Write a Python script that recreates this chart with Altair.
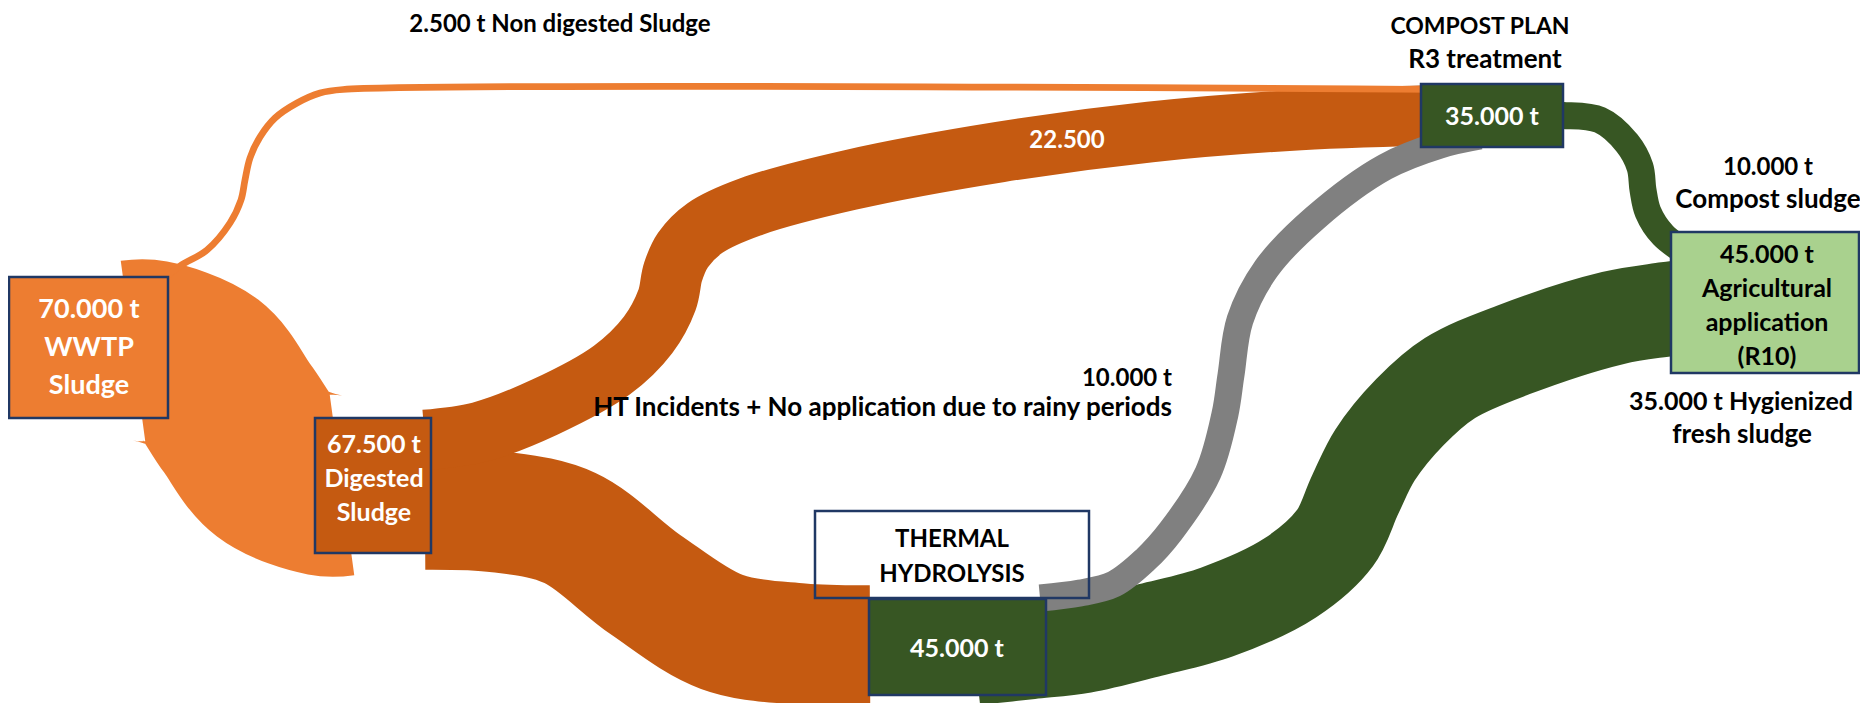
import altair as alt
import pandas as pd

# ----------------------------------------------------------------- data
NODE_ID = ["wwtp", "digested", "compost", "thermal", "agri"]
NODE_TONNES = [70000, 67500, 35000, 45000, 45000]
NODE_TEXT = [
    ["70.000 t", "WWTP", "Sludge"],
    ["67.500 t", "Digested", "Sludge"],
    ["35.000 t"],
    ["45.000 t"],
    ["45.000 t", "Agricultural", "application", "(R10)"],
]

LINK_ID = ["A", "B", "C", "D", "E", "F", "G"]
LINK_SOURCE = ["wwtp", "wwtp", "digested", "digested", "thermal", "thermal", "compost"]
LINK_TARGET = ["digested", "compost", "compost", "thermal", "compost", "agri", "agri"]
LINK_TONNES = [67500, 2500, 22500, 45000, 10000, 35000, 10000]

ANNOT_TEXT = [
    "2.500 t Non digested Sludge",
    "COMPOST PLAN",
    "R3 treatment",
    "22.500",
    "10.000 t",
    "HT Incidents + No application due to rainy periods",
    "10.000 t",
    "Compost sludge",
    "35.000 t Hygienized",
    "fresh sludge",
    "THERMAL",
    "HYDROLYSIS",
]

# ----------------------------------------------------------------- layout / style
W, H = 1852, 695
XS = alt.Scale(domain=[8, 8 + W], nice=False, zero=False)
YS = alt.Scale(domain=[8, 8 + H], nice=False, zero=False, reverse=True)

NAVY = "#203864"
NODE_FILL = {"wwtp": "#ED7D31", "digested": "#C55A11", "compost": "#375623",
             "thermal": "#375623", "agri": "#A9D18E"}
NODE_TEXT_COLOR = {"wwtp": "white", "digested": "white", "compost": "white",
                   "thermal": "white", "agri": "black"}
NODE_BOX = {"wwtp": (9, 168, 277, 418), "digested": (315, 431, 418, 553),
            "compost": (1421, 1563, 84, 147), "thermal": (869, 1046, 599, 695),
            "agri": (1671, 1859, 232, 373)}
# (center x, first baseline, line spacing, font size)
NODE_TEXT_POS = {"wwtp": (89, 318, 38, 27), "digested": (374, 453, 34, 25),
                 "compost": (1492, 125, 34, 25), "thermal": (957, 657, 34, 25),
                 "agri": (1767, 263, 34, 25)}
THERMAL_LABEL_BOX = (815, 1089, 511, 598)

LINK_COLOR = {"A": "#ED7D31", "B": "#ED7D31", "C": "#C55A11", "D": "#C55A11",
              "E": "#808080", "F": "#375623", "G": "#375623"}
LINK_PATH = {
    "A": [(133, 351), (150, 351), (203, 372), (237, 418), (272, 464), (325, 485), (342, 485)],
    "B": [(160, 282), (180, 266), (207, 250), (230, 223), (241, 200), (245, 180), (250, 158),
          (260, 137), (275, 118), (297, 103), (320, 93), (343, 89.5), (1440, 89.5)],
    "C": [(425, 440), (480, 432), (545, 407), (612, 370), (648, 335), (667, 300), (673, 272),
          (683, 250), (705, 228), (750, 207), (850, 180), (1000, 152), (1150, 132),
          (1300, 120), (1450, 115)],
    "D": [(425, 509), (500, 512), (570, 528), (646, 585), (722, 632), (800, 644), (870, 646)],
    "E": [(1040, 598), (1080, 593), (1114, 584), (1145, 560), (1171, 531), (1208, 473),
          (1225, 414), (1231, 375), (1240, 320), (1266, 269), (1315, 218), (1385, 167),
          (1440, 145), (1480, 136)],
    "F": [(975, 658), (1030, 652), (1083, 646), (1150, 630), (1217, 612), (1290, 578),
          (1335, 538), (1355, 495), (1375, 455), (1410, 412), (1450, 378), (1513, 350),
          (1613, 318), (1668, 309), (1720, 302)],
    "G": [(1540, 115.5), (1563, 115.5), (1600, 120), (1627, 143), (1640, 167), (1643, 190),
          (1648, 212), (1663, 235), (1695, 258)],
}
DRAW_ORDER = ["A", "D", "C", "B", "F", "E", "G"]

# (x, baseline, align, color, fontSize)
ANNOT_POS = [
    (560, 32, "center", "black", 24),
    (1480, 34, "center", "black", 23),
    (1485, 68, "center", "black", 26),
    (1067, 148, "center", "white", 24),
    (1172, 386, "right", "black", 24),
    (1172, 416, "right", "black", 26),
    (1768, 175, "center", "black", 24),
    (1768, 208, "center", "black", 26),
    (1741, 410, "center", "black", 25),
    (1742, 443, "center", "black", 26),
    (952, 547, "center", "black", 24),
    (952, 582, "center", "black", 24),
]
FONT = "Lato"

# ----------------------------------------------------------------- tables
tonnes_of = dict(zip(LINK_ID, LINK_TONNES))
path_rows = []
for lid in LINK_ID:
    for i, (px, py) in enumerate(LINK_PATH[lid]):
        path_rows.append({"link": lid, "i": i, "x": px, "y": py,
                          "tonnes": tonnes_of[lid], "color": LINK_COLOR[lid]})
paths = pd.DataFrame(path_rows)

node_rows = []
for nid, t in zip(NODE_ID, NODE_TONNES):
    x, x2, y, y2 = NODE_BOX[nid]
    node_rows.append({"node": nid, "tonnes": t, "x": x, "x2": x2, "y": y, "y2": y2,
                      "fill": NODE_FILL[nid]})
nodes = pd.DataFrame(node_rows)

lx, lx2, ly, ly2 = THERMAL_LABEL_BOX
label_box = pd.DataFrame([{"x": lx, "x2": lx2, "y": ly, "y2": ly2}])

text_rows = []
for nid, lines in zip(NODE_ID, NODE_TEXT):
    cx, by, sp, fs = NODE_TEXT_POS[nid]
    for k, s in enumerate(lines):
        text_rows.append({"text": s, "x": cx, "y": by + k * sp, "align": "center",
                          "color": NODE_TEXT_COLOR[nid], "fs": fs})
for s, (ax, ay, al, col, fs) in zip(ANNOT_TEXT, ANNOT_POS):
    text_rows.append({"text": s, "x": ax, "y": ay, "align": al, "color": col, "fs": fs})
texts = pd.DataFrame(text_rows)

# ----------------------------------------------------------------- marks
size_scale = alt.Scale(domain=[0, 67500], range=[0, 182], zero=True)

layers = []
for lid in DRAW_ORDER:
    layers.append(
        alt.Chart(paths[paths.link == lid])
        .mark_line(interpolate="catmull-rom", strokeCap="butt", strokeJoin="round")
        .encode(
            x=alt.X("x:Q", scale=XS, axis=None),
            y=alt.Y("y:Q", scale=YS, axis=None),
            order=alt.Order("i:Q"),
            color=alt.Color("color:N", scale=None),
            size=alt.Size("tonnes:Q", scale=size_scale, legend=None),
        )
    )

boxes = alt.Chart(nodes).mark_rect(stroke=NAVY, strokeWidth=2.5).encode(
    x=alt.X("x:Q", scale=XS, axis=None), x2="x2:Q",
    y=alt.Y("y:Q", scale=YS, axis=None), y2="y2:Q",
    color=alt.Color("fill:N", scale=None),
)
lbox = alt.Chart(label_box).mark_rect(fillOpacity=0, stroke=NAVY, strokeWidth=2.5).encode(
    x=alt.X("x:Q", scale=XS, axis=None), x2="x2:Q",
    y=alt.Y("y:Q", scale=YS, axis=None), y2="y2:Q",
)
layers += [lbox, boxes]

for (al, fs), grp in texts.groupby(["align", "fs"]):
    layers.append(
        alt.Chart(grp).mark_text(align=al, baseline="alphabetic", font=FONT,
                                 fontWeight="bold", fontSize=int(fs))
        .encode(
            x=alt.X("x:Q", scale=XS, axis=None),
            y=alt.Y("y:Q", scale=YS, axis=None),
            text="text:N",
            color=alt.Color("color:N", scale=None),
        )
    )

chart = (
    alt.layer(*layers)
    .properties(width=W, height=H, padding=0, autosize="none", background="white")
    .configure_view(stroke=None)
)

chart.save("out.html", embed_options={"renderer": "svg", "actions": False})
